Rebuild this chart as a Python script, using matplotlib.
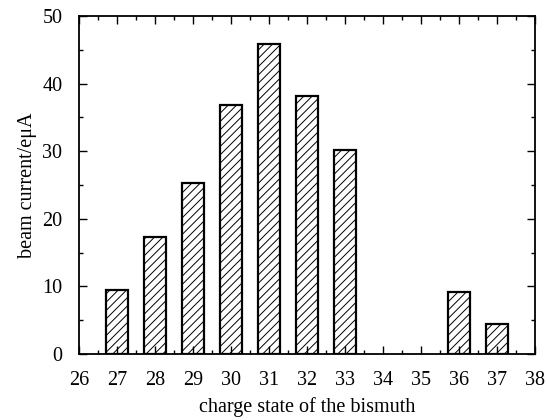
import matplotlib
matplotlib.use("Agg")
import matplotlib.pyplot as plt
from matplotlib.ticker import MultipleLocator

charge_states = [27, 28, 29, 30, 31, 32, 33, 36, 37]
beam_current = [9.5, 17.3, 25.3, 36.8, 45.9, 38.1, 30.2, 9.2, 4.5]
x_ticks = list(range(26, 39))
y_ticks = [0, 10, 20, 30, 40, 50]

plt.rcParams['font.family'] = ['Liberation Serif', 'DejaVu Serif']
plt.rcParams['hatch.linewidth'] = 0.7
plt.rcParams['hatch.color'] = '#666666'

fig = plt.figure(figsize=(5.47, 4.20), dpi=100)
ax = fig.add_axes([0.1444, 0.157, 0.8336, 0.805])

ax.bar(charge_states, beam_current, width=0.6, facecolor='white',
       edgecolor='black', linewidth=1.6, hatch='////')

ax.set_xlim(26, 38)
ax.set_ylim(0, 50)
ax.set_xticks(x_ticks)
ax.set_yticks(y_ticks)
ax.xaxis.set_minor_locator(MultipleLocator(0.5))
ax.yaxis.set_minor_locator(MultipleLocator(5))
ax.tick_params(which='both', direction='in', top=True, right=True,
               labelsize=14.5, width=1.0)
ax.tick_params(which='major', length=6)
ax.tick_params(axis='x', which='major', pad=12)
ax.tick_params(axis='y', which='major', pad=12)
ax.tick_params(which='minor', length=3)
for s in ax.spines.values():
    s.set_linewidth(1.3)

ax.set_xlabel('charge state of the bismuth', fontsize=14.5, labelpad=5)
ax.set_ylabel('beam current/eμA', fontsize=14.5, labelpad=4)

fig.savefig('out.png', dpi=100)
